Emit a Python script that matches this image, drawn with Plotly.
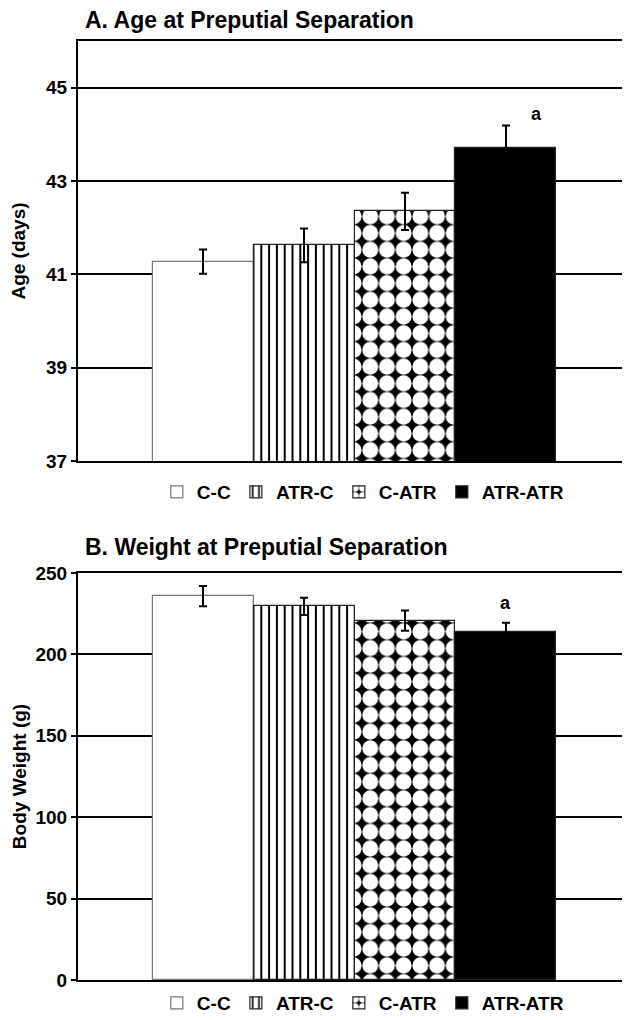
import plotly.graph_objects as go

# ---- data ----
groups = ["C-C", "ATR-C", "C-ATR", "ATR-ATR"]
age_mean = [41.27, 41.62, 42.35, 43.70]
age_sem = [0.26, 0.36, 0.40, 0.49]
weight_mean = [235.8, 229.5, 220.8, 213.6]
weight_sem = [6.2, 5.3, 6.2, 5.8]
age_ticks = [37, 39, 41, 43, 45]
weight_ticks = [0, 50, 100, 150, 200, 250]
sig_group = "ATR-ATR"

FONT = "Liberation Sans, Arial, sans-serif"

patterns = {
    "C-C": dict(shape="", fillmode="replace", bgcolor="white"),
    "ATR-C": dict(shape="|", fillmode="replace", fgcolor="black", bgcolor="white",
                  size=7.8, solidity=0.26),
    "C-ATR": dict(shape=".", fillmode="replace", fgcolor="white", bgcolor="black",
                  size=16.7, solidity=0.72),
    "ATR-ATR": dict(shape="", fillmode="replace", bgcolor="black"),
}
fills = {"C-C": "white", "ATR-C": "white", "C-ATR": "white", "ATR-ATR": "black"}
outline = {"C-C": "#777", "ATR-C": "#222", "C-ATR": "#222", "ATR-ATR": "#222"}

fig = go.Figure()

for panel, (means, sems, xa, ya, lg) in enumerate([
        (age_mean, age_sem, "x", "y", "legend"),
        (weight_mean, weight_sem, "x2", "y2", "legend2")]):
    for g, m, s in zip(groups, means, sems):
        fig.add_trace(go.Bar(
            x=[g], y=[m], name=g, xaxis=xa, yaxis=ya, legend=lg,
            width=1,
            marker=dict(color=fills[g], pattern=patterns[g],
                        line=dict(color=outline[g], width=1.2)),
            error_y=dict(type="data", array=[s], color="black",
                         thickness=2, width=4),
            showlegend=True,
        ))

# figure is offset 8px by the page's body margin
top_frac = (1012 - 453 - 40) / 939
bot_frac = (972 - 565) / 939
xrange = [-1.238, 4.228]

axis_common = dict(showline=True, linecolor="black", linewidth=2, automargin=False)
tickfont = dict(family=FONT, size=19, color="black", weight="bold")

fig.update_layout(
    width=622, height=1012,
    margin=dict(l=70, r=0, t=33, b=40, autoexpand=False),
    paper_bgcolor="white", plot_bgcolor="white",
    barmode="overlay", bargap=0,
    font=dict(family=FONT, color="black"),
    xaxis=dict(domain=[0, 1], anchor="y", type="category",
               categoryorder="array", categoryarray=groups,
               range=xrange, showticklabels=False, ticks="",
               showgrid=False, mirror=True, **axis_common),
    yaxis=dict(domain=[top_frac, 1], anchor="x", range=[37, 46],
               tickvals=age_ticks, showgrid=True, gridcolor="black",
               gridwidth=2, zeroline=False, ticks="outside", ticklen=5,
               tickwidth=2, tickcolor="black", tickfont=tickfont,
               title=dict(text="Age (days)", standoff=15,
                          font=dict(family=FONT, size=19, weight="bold")),
               **axis_common),
    xaxis2=dict(domain=[0, 1], anchor="y2", type="category",
                categoryorder="array", categoryarray=groups,
                range=xrange, showticklabels=False, ticks="",
                showgrid=False, mirror=True, **axis_common),
    yaxis2=dict(domain=[0, bot_frac], anchor="x2", range=[0, 250],
                tickvals=weight_ticks, showgrid=True, gridcolor="black",
                gridwidth=2, zeroline=False, ticks="outside", ticklen=5,
                tickwidth=2, tickcolor="black", tickfont=tickfont,
                title=dict(text="Body Weight (g)", standoff=4,
                           font=dict(family=FONT, size=19, weight="bold")),
                **axis_common),
    legend=dict(orientation="h", x=0.516, xanchor="center",
                y=(972 - 484) / 939, yanchor="middle",
                font=dict(family=FONT, size=19, weight="bold"),
                itemwidth=30, bgcolor="rgba(0,0,0,0)"),
    legend2=dict(orientation="h", x=0.516, xanchor="center",
                 y=(972 - 995) / 939, yanchor="middle",
                 font=dict(family=FONT, size=19, weight="bold"),
                 itemwidth=30, bgcolor="rgba(0,0,0,0)"),
)

title_font = dict(family=FONT, size=23, color="black", weight="bold")
fig.add_annotation(text="A. Age at Preputial Separation", xref="paper", yref="paper",
                   x=0, xshift=5, y=(972 - 12) / 939, xanchor="left", yanchor="middle",
                   showarrow=False, font=title_font)
fig.add_annotation(text="B. Weight at Preputial Separation", xref="paper", yref="paper",
                   x=0, xshift=5, y=(972 - 539) / 939, xanchor="left", yanchor="middle",
                   showarrow=False, font=title_font)

sig_font = dict(family=FONT, size=18, color="black", weight="bold")
fig.add_annotation(text="a", xref="x", yref="y", x=sig_group, y=44.44, xshift=31,
                   showarrow=False, font=sig_font, yanchor="middle")
fig.add_annotation(text="a", xref="x2", yref="y2", x=sig_group, y=231.5,
                   showarrow=False, font=sig_font, yanchor="middle")

fig.write_html("out.html")
